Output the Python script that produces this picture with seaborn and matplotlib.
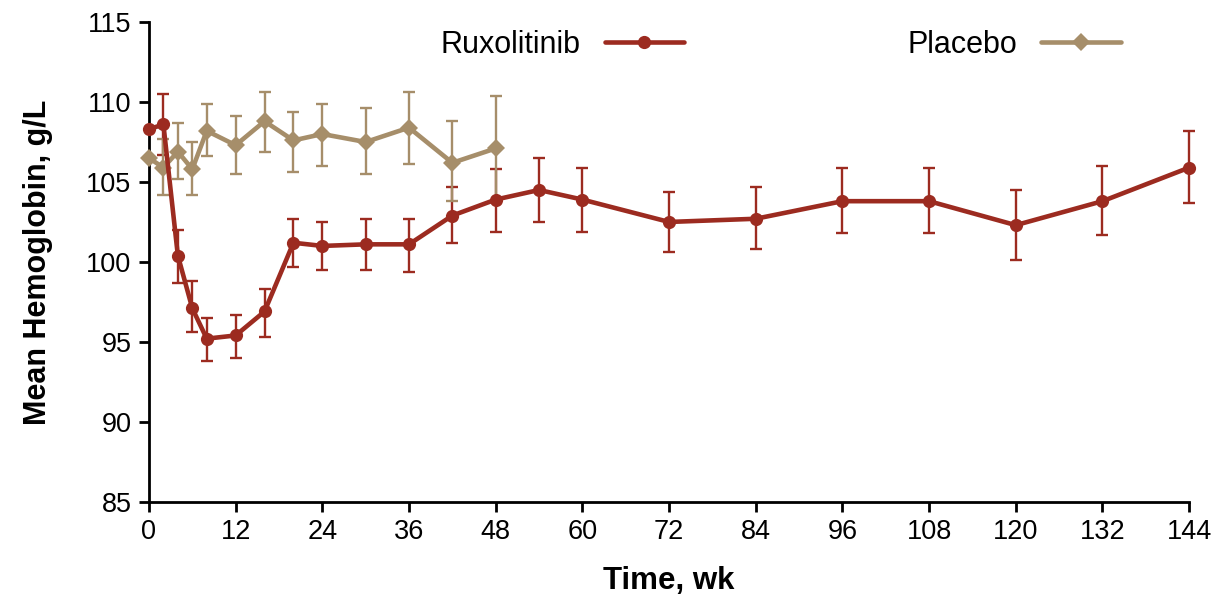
import matplotlib
matplotlib.use("Agg")
import matplotlib.pyplot as plt
import numpy as np
import pandas as pd
import seaborn as sns

# weeks and mean hemoglobin (g/L)
rux_weeks = [0, 2, 4, 6, 8, 12, 16, 20, 24, 30, 36, 42, 48, 54, 60, 72, 84, 96, 108, 120, 132, 144]
rux_mean = [108.3, 108.6, 100.4, 97.1, 95.2, 95.4, 96.9, 101.2, 101.0, 101.1, 101.1, 102.9, 103.9,
            104.5, 103.9, 102.5, 102.7, 103.8, 103.8, 102.3, 103.8, 105.9]
rux_hi = [108.3, 110.5, 102.0, 98.8, 96.5, 96.7, 98.3, 102.7, 102.5, 102.7, 102.7, 104.7, 105.8,
          106.5, 105.9, 104.4, 104.7, 105.9, 105.9, 104.5, 106.0, 108.2]
rux_lo = [108.3, 106.7, 98.7, 95.6, 93.8, 94.0, 95.3, 99.7, 99.5, 99.5, 99.4, 101.2, 101.9,
          102.5, 101.9, 100.6, 100.8, 101.8, 101.8, 100.1, 101.7, 103.7]

pbo_weeks = [0, 2, 4, 6, 8, 12, 16, 20, 24, 30, 36, 42, 48]
pbo_mean = [106.5, 105.9, 106.9, 105.8, 108.2, 107.3, 108.8, 107.6, 108.0, 107.5, 108.4, 106.2, 107.1]
pbo_hi = [106.5, 107.7, 108.7, 107.5, 109.9, 109.1, 110.6, 109.4, 109.9, 109.6, 110.6, 108.8, 110.4]
pbo_lo = [106.5, 104.2, 105.2, 104.2, 106.6, 105.5, 106.9, 105.6, 106.0, 105.5, 106.1, 103.8, 103.8]

x_ticks = list(range(0, 145, 12))
y_ticks = list(range(85, 116, 5))

RED = "#9c2b20"
TAN = "#a68e6a"

sns.set_theme(style="ticks")
plt.rcParams["font.family"] = ["Liberation Sans", "DejaVu Sans"]
plt.rcParams["text.color"] = "black"
plt.rcParams["axes.labelcolor"] = "black"

df = pd.concat([
    pd.DataFrame({"week": rux_weeks, "hb": rux_mean, "arm": "Ruxolitinib"}),
    pd.DataFrame({"week": pbo_weeks, "hb": pbo_mean, "arm": "Placebo"}),
])

fig = plt.figure(figsize=(12.31, 5.98), dpi=100)
ax = fig.add_axes([0.121, 0.161, 0.845, 0.802])

# error bars (no bar at baseline)
for weeks, m, hi, lo, col in [(rux_weeks, rux_mean, rux_hi, rux_lo, RED),
                              (pbo_weeks, pbo_mean, pbo_hi, pbo_lo, TAN)]:
    w = np.array(weeks[1:])
    mm = np.array(m[1:])
    err = [mm - np.array(lo[1:]), np.array(hi[1:]) - mm]
    ax.errorbar(w, mm, yerr=err, fmt="none", ecolor=col, elinewidth=1.7,
                capsize=4.5, capthick=1.7, zorder=2, clip_on=False)

sns.lineplot(data=df[df.arm == "Placebo"], x="week", y="hb", color=TAN, marker="D",
             markersize=9.5, markeredgewidth=0, linewidth=3.3, ax=ax, zorder=3,
             label="Placebo", clip_on=False)
sns.lineplot(data=df[df.arm == "Ruxolitinib"], x="week", y="hb", color=RED, marker="o",
             markersize=9.5, markeredgewidth=0, linewidth=3.3, ax=ax, zorder=4,
             label="Ruxolitinib", clip_on=False)

ax.set_xlim(0, 144)
ax.set_ylim(85, 115)
ax.set_xticks(x_ticks)
ax.set_yticks(y_ticks)
ax.tick_params(labelsize=19.5, length=7.5, width=2, colors="black", pad=5)
for s in ["left", "bottom"]:
    ax.spines[s].set_linewidth(2)
    ax.spines[s].set_color("black")
sns.despine(ax=ax)

ax.set_xlabel("Time, wk", fontsize=22.5, fontweight="bold", labelpad=15)
ax.set_ylabel("Mean Hemoglobin, g/L", fontsize=22, fontweight="bold", labelpad=24)

handles, labels = ax.get_legend_handles_labels()
order = [labels.index("Ruxolitinib"), labels.index("Placebo")]
ax.legend([handles[i] for i in order], [labels[i] for i in order], ncol=2,
          markerfirst=False, frameon=False, fontsize=22, handlelength=2.6,
          columnspacing=7.3, handletextpad=0.8, loc="center",
          bbox_to_anchor=(0.607, 0.952))

fig.savefig("out.png", dpi=100)
